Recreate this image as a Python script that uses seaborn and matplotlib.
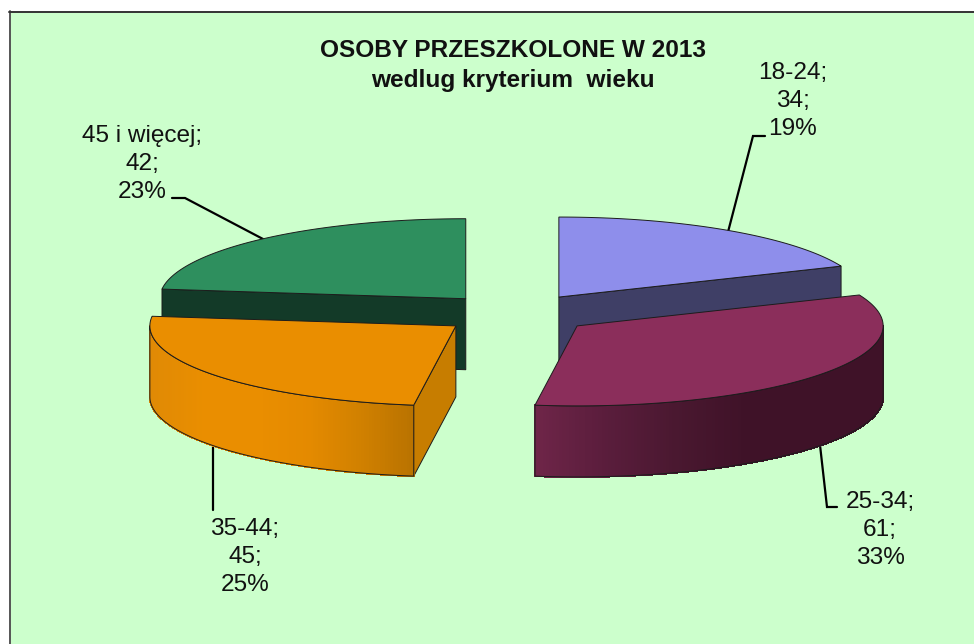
import numpy as np
import matplotlib
matplotlib.use("Agg")
import matplotlib.pyplot as plt
from matplotlib.collections import PolyCollection
from matplotlib.patches import Polygon, Rectangle
import seaborn as sns

# --- data -------------------------------------------------------------
categories = ["18-24", "25-34", "35-44", "45 i więcej"]
values = [34, 61, 45, 42]
percents = ["19%", "33%", "25%", "23%"]
title_lines = ["OSOBY PRZESZKOLONE W 2013", "wedlug kryterium  wieku"]

# --- style ------------------------------------------------------------
sns.set_theme(style="white")
plt.rcParams["font.family"] = ["Liberation Sans", "DejaVu Sans"]

PANEL = "#ccffcc"
top_colors = sns.color_palette(["#8e8eeb", "#8b2e5b", "#ea8e00", "#2e8f5e"])
cut_colors = ["#3f3f66", "#3f1228", "#c77d00", "#133a28"]
wall_stops = [
    ["#3f3f66", "#3f3f66"],
    ["#6e2548", "#5a1d3c", "#4a1830", "#3f1228", "#3f1228", "#3f1228"],
    ["#e08a05", "#ea8e00", "#ea8e00", "#e48a00", "#d08000", "#b87200"],
    ["#133a28", "#133a28"],
]

# --- pie geometry in reference pixels ---------------------------------
CX, CY = 516.5, 313.7
RX, RY = 306.0, 80.0
DEPTH = 71.0
EXPLODE = 0.25
EDGE = "#1c1c1c"

fig = plt.figure(figsize=(9.74, 6.44), dpi=100, facecolor="white")
ax = fig.add_axes([0, 0, 1, 1])
ax.set_xlim(0, 974)
ax.set_ylim(644, 0)
ax.axis("off")

ax.add_patch(Rectangle((9.5, 11.5), 980, 650, facecolor=PANEL, edgecolor="none", zorder=0))
ax.plot([9.5, 9.5], [11, 644], color="#555555", lw=1.4, zorder=1)
ax.plot([9, 974], [11.5, 11.5], color="#333333", lw=1.4, zorder=1)

fractions = np.array(values, dtype=float) / np.sum(values)
bounds = np.concatenate([[0.0], np.cumsum(fractions) * 2 * np.pi])


def rim(apex, theta):
    theta = np.asarray(theta)
    return apex[0] + RX * np.sin(theta), apex[1] - RY * np.cos(theta)


def draw_slice(i, z):
    a0, a1 = bounds[i], bounds[i + 1]
    mid = (a0 + a1) / 2
    apex = (CX + EXPLODE * RX * np.sin(mid), CY - EXPLODE * RY * np.cos(mid))
    th = np.linspace(a0, a1, 240)
    xs, ys = rim(apex, th)

    # flat cut faces (only those turned towards the viewer)
    for a, visible in ((a0, np.sin(a0) < -1e-6), (a1, np.sin(a1) > 1e-6)):
        if not visible:
            continue
        x, y = rim(apex, a)
        ax.add_patch(Polygon(
            [apex, (x, y), (x, y + DEPTH), (apex[0], apex[1] + DEPTH)],
            closed=True, facecolor=cut_colors[i], edgecolor=EDGE, lw=0.7, zorder=z))

    # curved outer wall, lower half of the ellipse only
    lo, hi = max(a0, np.pi / 2), min(a1, 3 * np.pi / 2)
    if hi > lo:
        tw = np.linspace(lo, hi, 160)
        wx, wy = rim(apex, tw)
        strips = [[(wx[k], wy[k]), (wx[k + 1], wy[k + 1]),
                   (wx[k + 1], wy[k + 1] + DEPTH), (wx[k], wy[k] + DEPTH)]
                  for k in range(len(tw) - 1)]
        ramp = sns.blend_palette(wall_stops[i], 256)
        mids = (wx[:-1] + wx[1:]) / 2
        t = (mids - wx.min()) / (wx.max() - wx.min())
        cols = [ramp[int(v * 255)] for v in t]
        ax.add_collection(PolyCollection(strips, facecolors=cols, edgecolors=cols,
                                         linewidths=0.8, antialiaseds=False, zorder=z + 0.1))
        outline = list(zip(wx, wy)) + list(zip(wx[::-1], wy[::-1] + DEPTH))
        ax.add_patch(Polygon(outline, closed=True, fill=False, edgecolor=EDGE,
                             lw=0.7, zorder=z + 0.2))

    # top surface
    pts = [apex] + list(zip(xs, ys))
    ax.add_patch(Polygon(pts, closed=True, facecolor=top_colors[i], edgecolor=EDGE,
                         lw=0.7, zorder=z + 0.3))


for order, idx in enumerate([3, 0, 2, 1]):
    draw_slice(idx, 3 + order)

# --- leader lines -----------------------------------------------------
leaders = [
    ([765, 753, 728], [136, 136, 232]),
    ([837, 827, 820], [507, 507, 445]),
    ([213, 213], [510, 446]),
    ([172, 185, 263], [198, 198, 239]),
]
for lx, ly in leaders:
    ax.plot(lx, ly, color="black", lw=1.6, zorder=2, solid_joinstyle="miter")

# --- labels -----------------------------------------------------------
label_pos = [(793, 101), (880, 530), (245, 557), (142, 164)]
for (x, y), cat, val, pct in zip(label_pos, categories, values, percents):
    ax.text(x, y, f"{cat};\n{val};\n{pct}", ha="center", va="center",
            fontsize=17.6, color="#111111", linespacing=1.38, zorder=10)

ax.text(513, 50, title_lines[0], ha="center", va="center", fontsize=17.6,
        fontweight="bold", color="#111111", zorder=10)
ax.text(513, 80, title_lines[1], ha="center", va="center", fontsize=17.6,
        fontweight="bold", color="#111111", zorder=10)

fig.savefig("out.png", dpi=100, facecolor="white")
